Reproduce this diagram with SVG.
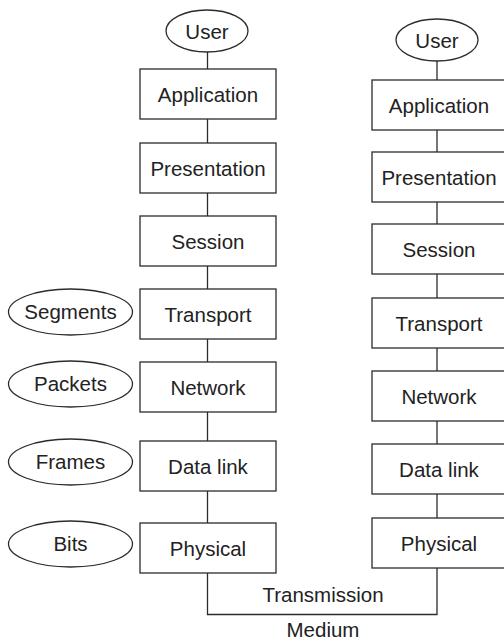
<svg xmlns="http://www.w3.org/2000/svg" width="504" height="641" viewBox="0 0 504 641">
  <style>
    .box { fill: #ffffff; stroke: #2b2b2b; stroke-width: 1.3; }
    .oval { fill: #ffffff; stroke: #2b2b2b; stroke-width: 1.3; }
    .wire { fill: none; stroke: #2b2b2b; stroke-width: 1.3; }
    .lbl { font-family: "Liberation Sans", Arial, Helvetica, sans-serif; font-size: 20.5px; fill: #222222; text-anchor: middle; }
  </style>
  <rect width="504" height="641" fill="#ffffff"/>

  <!-- connectors -->
  <g id="connectors">
    <!-- left stack -->
    <line class="wire" x1="207.5" y1="52" x2="207.5" y2="69"/>
    <line class="wire" x1="207.5" y1="119" x2="207.5" y2="143"/>
    <line class="wire" x1="207.5" y1="193" x2="207.5" y2="216"/>
    <line class="wire" x1="207.5" y1="266" x2="207.5" y2="289"/>
    <line class="wire" x1="207.5" y1="339" x2="207.5" y2="362"/>
    <line class="wire" x1="207.5" y1="412" x2="207.5" y2="441"/>
    <line class="wire" x1="207.5" y1="491" x2="207.5" y2="523"/>
    <!-- right stack -->
    <line class="wire" x1="437" y1="61" x2="437" y2="80"/>
    <line class="wire" x1="437" y1="130" x2="437" y2="152"/>
    <line class="wire" x1="437" y1="202" x2="437" y2="224"/>
    <line class="wire" x1="437" y1="274" x2="437" y2="298"/>
    <line class="wire" x1="437" y1="348" x2="437" y2="371"/>
    <line class="wire" x1="437" y1="421" x2="437" y2="444"/>
    <line class="wire" x1="437" y1="494" x2="437" y2="518"/>
    <!-- transmission medium -->
    <polyline class="wire" points="207.5,573 207.5,614.5 437,614.5 437,568"/>
  </g>

  <!-- left stack -->
  <g id="user-left"><ellipse class="oval" cx="207" cy="31" rx="41" ry="21"/><text class="lbl" x="207" y="38.5">User</text></g>
  <g id="application-left"><rect class="box" x="140" y="69" width="136" height="50"/><text class="lbl" x="208" y="101.5">Application</text></g>
  <g id="presentation-left"><rect class="box" x="140" y="143" width="136" height="50"/><text class="lbl" x="208" y="175.5">Presentation</text></g>
  <g id="session-left"><rect class="box" x="140" y="216" width="136" height="50"/><text class="lbl" x="208" y="248.5">Session</text></g>
  <g id="transport-left"><rect class="box" x="140" y="289" width="136" height="50"/><text class="lbl" x="208" y="321.5">Transport</text></g>
  <g id="network-left"><rect class="box" x="140" y="362" width="136" height="50"/><text class="lbl" x="208" y="394.5">Network</text></g>
  <g id="datalink-left"><rect class="box" x="140" y="441" width="136" height="50"/><text class="lbl" x="208" y="473.5">Data link</text></g>
  <g id="physical-left"><rect class="box" x="140" y="523" width="136" height="50"/><text class="lbl" x="208" y="555.5">Physical</text></g>

  <!-- data units -->
  <g id="segments"><ellipse class="oval" cx="70.5" cy="312" rx="62" ry="23"/><text class="lbl" x="70.5" y="319">Segments</text></g>
  <g id="packets"><ellipse class="oval" cx="70.5" cy="384" rx="62" ry="23"/><text class="lbl" x="70.5" y="391">Packets</text></g>
  <g id="frames"><ellipse class="oval" cx="70.5" cy="462" rx="62" ry="23"/><text class="lbl" x="70.5" y="469">Frames</text></g>
  <g id="bits"><ellipse class="oval" cx="70.5" cy="544" rx="62" ry="23"/><text class="lbl" x="70.5" y="551">Bits</text></g>

  <!-- right stack -->
  <g id="user-right"><ellipse class="oval" cx="437" cy="40" rx="41" ry="21"/><text class="lbl" x="437" y="47.5">User</text></g>
  <g id="application-right"><rect class="box" x="372" y="80" width="134" height="50"/><text class="lbl" x="439" y="112.5">Application</text></g>
  <g id="presentation-right"><rect class="box" x="372" y="152" width="134" height="50"/><text class="lbl" x="439" y="184.5">Presentation</text></g>
  <g id="session-right"><rect class="box" x="372" y="224" width="134" height="50"/><text class="lbl" x="439" y="256.5">Session</text></g>
  <g id="transport-right"><rect class="box" x="372" y="298" width="134" height="50"/><text class="lbl" x="439" y="330.5">Transport</text></g>
  <g id="network-right"><rect class="box" x="372" y="371" width="134" height="50"/><text class="lbl" x="439" y="403.5">Network</text></g>
  <g id="datalink-right"><rect class="box" x="372" y="444" width="134" height="50"/><text class="lbl" x="439" y="476.5">Data link</text></g>
  <g id="physical-right"><rect class="box" x="372" y="518" width="134" height="50"/><text class="lbl" x="439" y="550.5">Physical</text></g>

  <!-- medium labels -->
  <text class="lbl" x="323" y="602">Transmission</text>
  <text class="lbl" x="323" y="637">Medium</text>
</svg>
